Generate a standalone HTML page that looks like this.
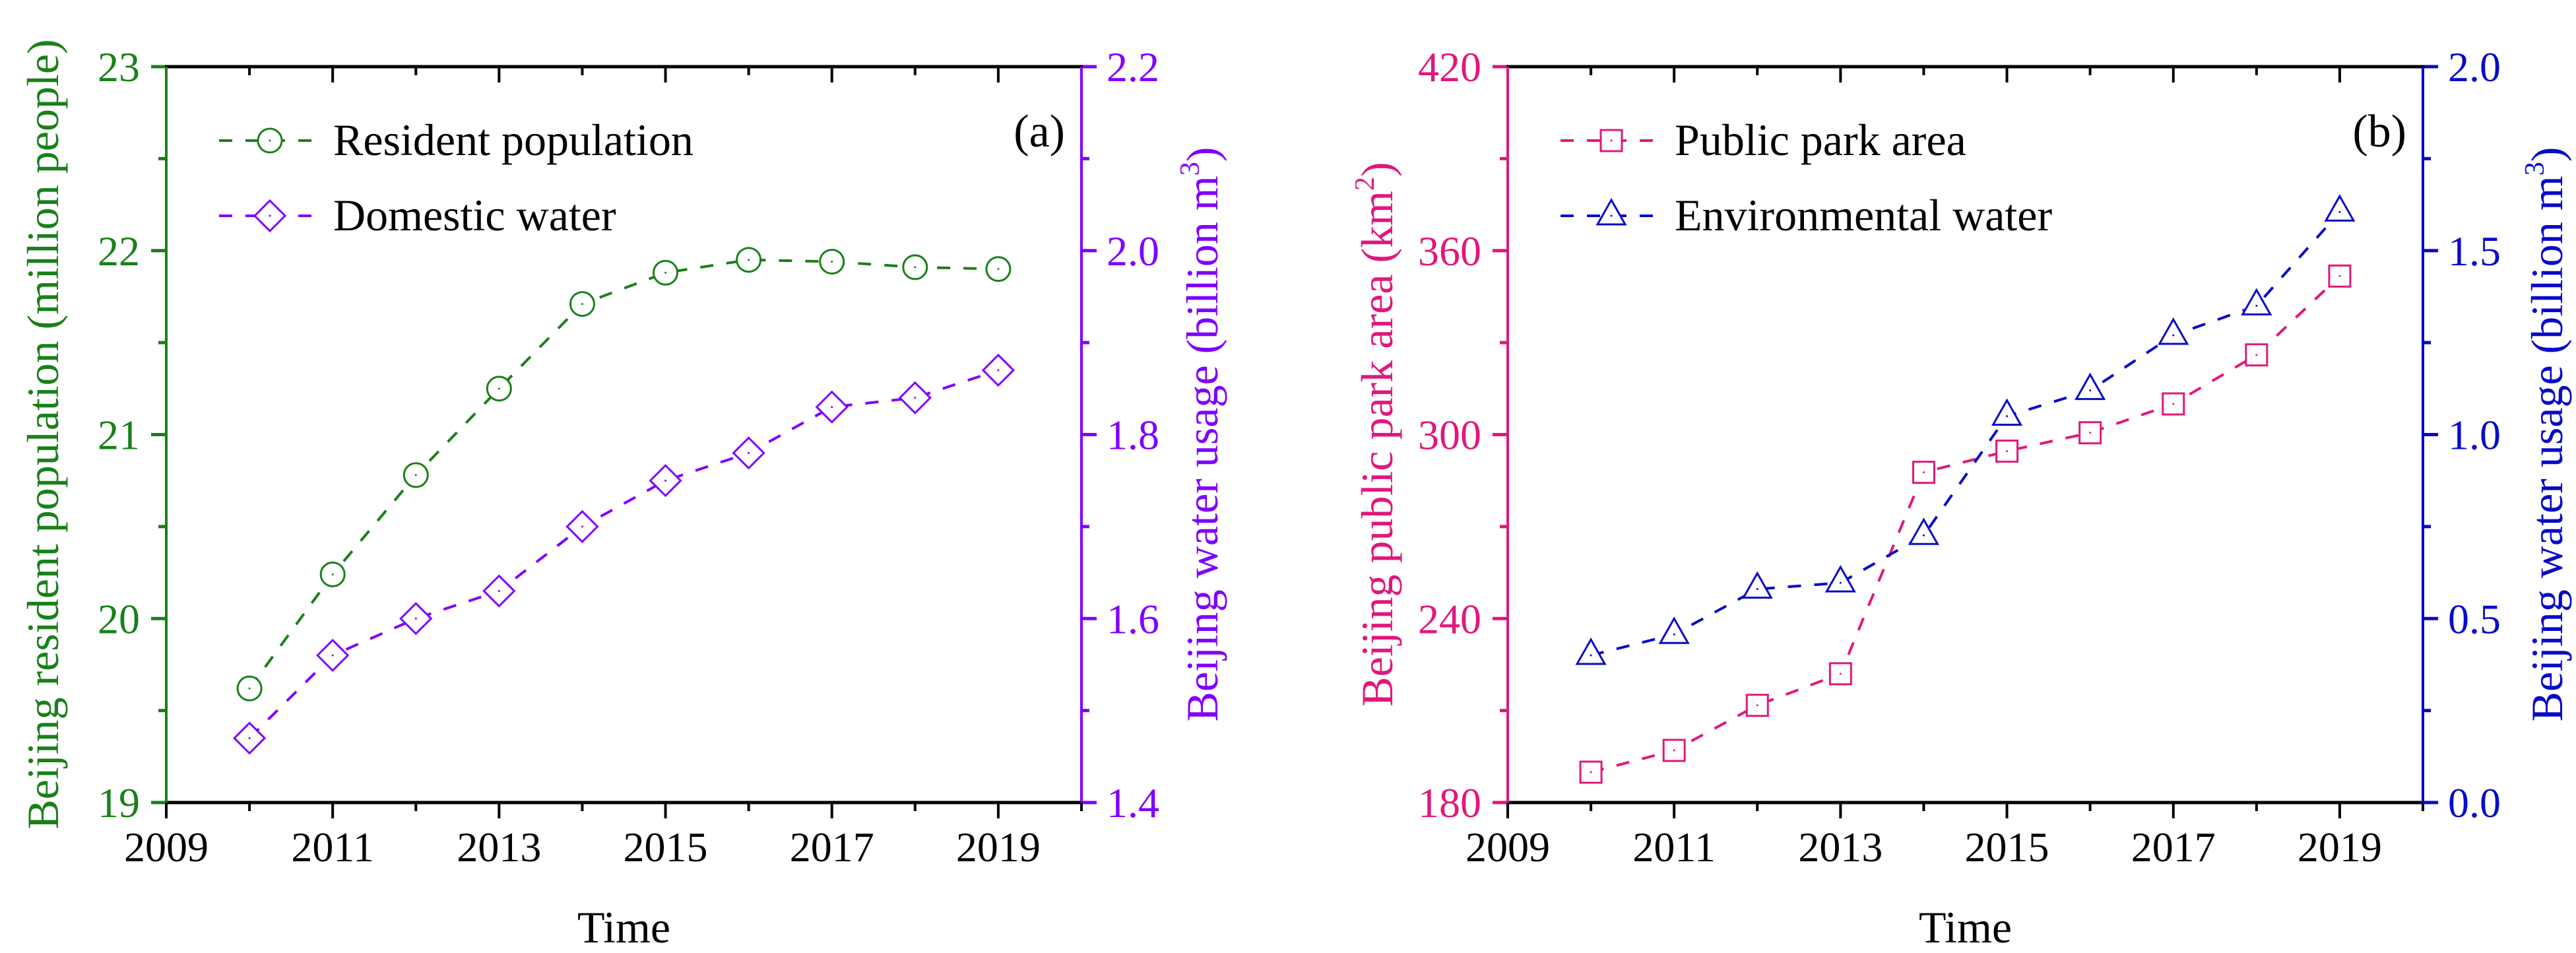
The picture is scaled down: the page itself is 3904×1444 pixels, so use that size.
<!DOCTYPE html>
<html><head><meta charset="utf-8"><style>
html,body{margin:0;padding:0;background:#fff}
svg{display:block;font-family:"Liberation Serif","Noto Serif CJK SC","DejaVu Serif",serif}
svg text{font-family:"Liberation Serif","Noto Serif CJK SC","DejaVu Serif",serif}
</style></head><body>
<svg id="fig" width="3904" height="1444" viewBox="0 0 3904 1444" xmlns="http://www.w3.org/2000/svg"></svg>
<script>
const years = [2010,2011,2012,2013,2014,2015,2016,2017,2018,2019];
const populationValues = [19.62,20.24,20.78,21.25,21.71,21.88,21.95,21.94,21.91,21.90];
const domesticWaterValues = [1.47,1.56,1.60,1.63,1.70,1.75,1.78,1.83,1.84,1.87];
const parkAreaValues = [189.9,197,211.7,222,287.7,294.6,300.6,310,326,351.7];
const envWaterValues = [0.40,0.457,0.58,0.597,0.726,1.05,1.12,1.27,1.35,1.605];
const xTickLabels = ['2009','2011','2013','2015','2017','2019'];
const popTicks = ['19','20','21','22','23'];
const domTicks = ['1.4','1.6','1.8','2.0','2.2'];
const parkTicks = ['180','240','300','360','420'];
const envTicks = ['0.0','0.5','1.0','1.5','2.0'];

const NS='http://www.w3.org/2000/svg';
const svg=document.getElementById('fig');
function el(tag,attrs,parent,txt){const e=document.createElementNS(NS,tag);for(const k in attrs)e.setAttribute(k,attrs[k]);if(tag==='text')e.style.fontFamily='"Liberation Serif","Noto Serif CJK SC","DejaVu Serif",serif';if(txt!==undefined)e.textContent=txt;(parent||svg).appendChild(e);return e;}

function panel(cfg){
  const L=cfg.left,R=cfg.left+1387,T=101,B=1216;
  const g=el('g',{});
  
  
  const xs=v=>L+(v-2009)/(2020-2009)*(R-L);
  const yl=v=>B-(v-cfg.lmin)/(cfg.lmax-cfg.lmin)*(B-T);
  const yr=v=>B-(v-cfg.rmin)/(cfg.rmax-cfg.rmin)*(B-T);
  for(let y=2009;y<=2020;y++){
    const x=xs(y), major=(y%2===1);
    const t1=el('line',{x1:x,y1:B,x2:x,y2:B+(major?24:13),stroke:'#000','stroke-width':4},g);
    
    
    const t2=el('line',{x1:x,y1:T,x2:x,y2:T+(major?24:13),stroke:'#000','stroke-width':4},g);
    
    
  }
  xTickLabels.forEach(s=>{
    const t=el('text',{x:xs(+s),y:1305,'font-size':64,'text-anchor':'middle',fill:'#000'},g,s);
    
    
  });
  cfg.lticks.forEach((s,i)=>{
    const v=+s,y=yl(v);
    const tk=el('line',{x1:L-23,y1:y,x2:L,y2:y,stroke:cfg.lc,'stroke-width':5},g);
    
    
    const t=el('text',{x:L-40,y:y+22,'font-size':64,'text-anchor':'end',fill:cfg.lc},g,s);
    
    
    if(i<cfg.lticks.length-1){const ym=(y+yl(+cfg.lticks[i+1]))/2;
      const m=el('line',{x1:L-12,y1:ym,x2:L,y2:ym,stroke:cfg.lc,'stroke-width':5},g);
      
      }
  });
  cfg.rticks.forEach((s,i)=>{
    const v=+s,y=yr(v);
    const tk=el('line',{x1:R,y1:y,x2:R+23,y2:y,stroke:cfg.rc,'stroke-width':5},g);
    
    
    const t=el('text',{x:R+38,y:y+22,'font-size':64,'text-anchor':'start',fill:cfg.rc},g,s);
    
    
    if(i<cfg.rticks.length-1){const ym=(y+yr(+cfg.rticks[i+1]))/2;
      const m=el('line',{x1:R,y1:ym,x2:R+12,y2:ym,stroke:cfg.rc,'stroke-width':5},g);
      
      }
  });
  const ax1=el('line',{x1:L-2,y1:T,x2:R+2,y2:T,stroke:'#000','stroke-width':5},g);
  
  const ax2=el('line',{x1:L-2,y1:B,x2:R+2,y2:B,stroke:'#000','stroke-width':5},g);
  
  const ax3=el('line',{x1:L,y1:T,x2:L,y2:B,stroke:cfg.lc,'stroke-width':4},g);
  
  const ax4=el('line',{x1:R,y1:T,x2:R,y2:B,stroke:cfg.rc,'stroke-width':4},g);
  
  function series(vals,ys,color,marker,name){
    const pts=vals.map((v,i)=>[xs(years[i]),ys(v)]);
    const pl=el('polyline',{points:pts.map(p=>p.join(',')).join(' '),fill:'none',stroke:color,'stroke-width':4,'stroke-dasharray':'20 20'},g);
    
    
    pts.forEach(p=>{
      const mk=drawMarker(marker,p[0],p[1],color,g);
      
      
    });
  }
  series(cfg.lvals,yl,cfg.lc,cfg.lm,cfg.lname);
  series(cfg.rvals,yr,cfg.rc,cfg.rm,cfg.rname);
  [[cfg.lc,cfg.lm,cfg.ltext,213,cfg.lname],[cfg.rc,cfg.rm,cfg.rtext,327,cfg.rname]].forEach(([c,m,txt,y,nm])=>{
    const lg=el('g',{},g);
    
    
    const mx=L+157;
    el('line',{x1:L+80,y1:y,x2:L+237,y2:y,stroke:c,'stroke-width':4,'stroke-dasharray':'20 20'},lg);
    drawMarker(m,mx,y,c,lg);
    el('text',{x:L+253,y:y+22,'font-size':68,fill:'#000'},lg,txt);
  });
  const pl=el('text',{x:R-25,y:222,'font-size':70,'text-anchor':'end',fill:'#000'},g,cfg.panelLabel);
  
  const tm=el('text',{x:(L+R)/2,y:1428,'font-size':68,'text-anchor':'middle',fill:'#000'},g,'Time');
  
  const lt=el('text',{transform:`translate(${cfg.ltx},658) rotate(-90)`,'font-size':68,'text-anchor':'middle',fill:cfg.lc},g);
  
  cfg.ltitle(lt);
  const rt=el('text',{transform:`translate(${cfg.rtx},658) rotate(-90)`,'font-size':68,'text-anchor':'middle',fill:cfg.rc},g);
  
  el('tspan',{},rt,'Beijing water usage (billion m');
  el('tspan',{dy:-28,'font-size':42},rt,'3');
  el('tspan',{dy:28},rt,')');
}
function drawMarker(type,x,y,c,parent){
  const g=el('g',{},parent);
  if(type==='circle') el('circle',{cx:x,cy:y,r:18,fill:'#fff',stroke:c,'stroke-width':3},g);
  if(type==='diamond') el('polygon',{points:`${x},${y-23} ${x+23},${y} ${x},${y+23} ${x-23},${y}`,fill:'#fff',stroke:c,'stroke-width':3},g);
  if(type==='square') el('rect',{x:x-16,y:y-16,width:32,height:32,fill:'#fff',stroke:c,'stroke-width':3},g);
  if(type==='triangle') el('polygon',{points:`${x},${y-24} ${x+21},${y+13} ${x-21},${y+13}`,fill:'#fff',stroke:c,'stroke-width':3},g);
  el('circle',{cx:x,cy:y,r:1.5,fill:c},g);
  return g;
}
panel({name:'panel-a',left:252,lmin:19,lmax:23,rmin:1.4,rmax:2.2,lc:'#1a801a',rc:'#8000ff',
  lticks:popTicks,rticks:domTicks,lvals:populationValues,rvals:domesticWaterValues,lm:'circle',rm:'diamond',
  lname:'resident-population',rname:'domestic-water',ltext:'Resident population',rtext:'Domestic water',panelLabel:'(a)',
  ltx:88,rtx:1845,ltitle:t=>{t.textContent='Beijing resident population  (million people)';}});
panel({name:'panel-b',left:2285,lmin:180,lmax:420,rmin:0,rmax:2,lc:'#e0187c',rc:'#0a0ac8',
  lticks:parkTicks,rticks:envTicks,lvals:parkAreaValues,rvals:envWaterValues,lm:'square',rm:'triangle',
  lname:'public-park-area',rname:'environmental-water',ltext:'Public park area',rtext:'Environmental water',panelLabel:'(b)',
  ltx:2110,rtx:3883,ltitle:t=>{el('tspan',{},t,'Beijing public park area (km');el('tspan',{dy:-28,'font-size':42},t,'2');el('tspan',{dy:28},t,')');}});
</script>
</body></html>
